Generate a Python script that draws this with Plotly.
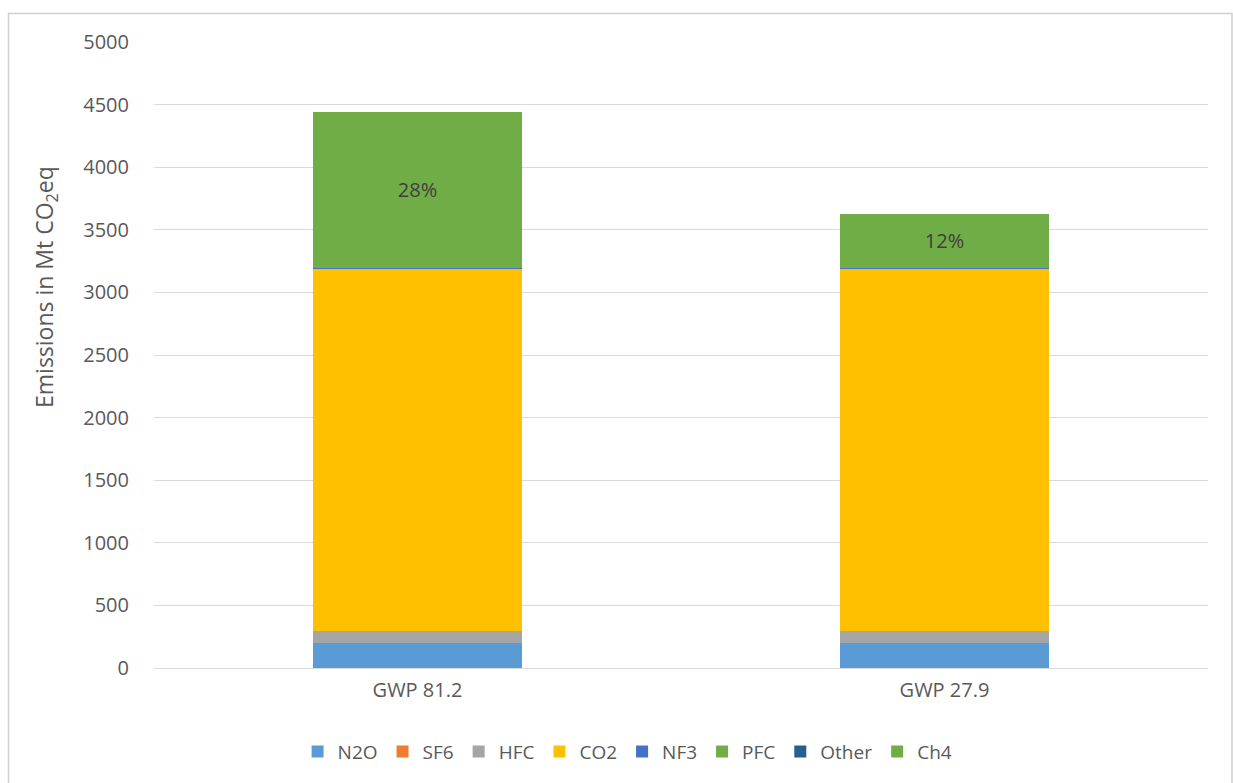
import plotly.graph_objects as go

# Emission scenarios (x-axis categories)
scenarios = ["GWP 81.2", "GWP 27.9"]

# Emissions per gas, Mt CO2eq, stacked bottom to top
n2o = [200, 200]
sf6 = [2, 2]
hfc = [90, 90]
co2 = [2902, 2902]
nf3 = [2, 2]
pfc = [8, 8]
other = [0, 0]
ch4 = [1240, 420]

gases = ["N2O", "SF6", "HFC", "CO2", "NF3", "PFC", "Other", "Ch4"]
series = [n2o, sf6, hfc, co2, nf3, pfc, other, ch4]
colors = ["#5B9BD5", "#ED7D31", "#A5A5A5", "#FFC000",
          "#4472C4", "#70AD47", "#255E91", "#70AD47"]

totals = [sum(vals[i] for vals in series) for i in range(len(scenarios))]
ch4_share = [f"{round(100 * c / t)}%" for c, t in zip(ch4, totals)]

FONT = "Open Sans"
GREY_TEXT = "#595959"

fig = go.Figure()
for name, vals, col in zip(gases, series, colors):
    bar = dict(
        name=name,
        x=scenarios,
        y=vals,
        marker=dict(color=col, line=dict(width=0)),
    )
    if name == "Ch4":
        bar.update(
            text=ch4_share,
            textposition="inside",
            insidetextanchor="middle",
            textangle=0,
            textfont=dict(family=FONT, size=20, color="#404040"),
        )
    fig.add_trace(go.Bar(**bar))

L, R, T, B = 154, 25, 42, 115
W, H = 1233, 783
pw, ph = W - L - R, H - T - B


def px_x(x):
    return (x - L) / pw


def px_y(y):
    return (H - B - y) / ph


fig.update_layout(
    barmode="stack",
    bargap=0.603,
    width=W,
    height=H,
    margin=dict(l=L, r=R, t=T, b=B),
    paper_bgcolor="white",
    plot_bgcolor="white",
    font=dict(family=FONT, size=18, color=GREY_TEXT),
    showlegend=True,
    legend=dict(
        orientation="h",
        xref="container", yref="container",
        x=0.509, y=0.04,
        xanchor="center", yanchor="middle",
        font=dict(family=FONT, size=19, color=GREY_TEXT),
        traceorder="normal",
        itemwidth=30,
    ),
    xaxis=dict(
        showgrid=False,
        showline=False,
        ticks="",
        ticklabelstandoff=8,
        tickfont=dict(family=FONT, size=20, color=GREY_TEXT),
    ),
    yaxis=dict(
        range=[0, 5000],
        dtick=500,
        showgrid=True,
        gridcolor="#D9D9D9",
        gridwidth=1.3,
        zeroline=True,
        zerolinecolor="#D9D9D9",
        zerolinewidth=1.3,
        showline=False,
        ticks="",
        ticklabelstandoff=24,
        tickfont=dict(family=FONT, size=20, color=GREY_TEXT),
    ),
    annotations=[dict(
        text="Emissions in Mt CO<sub>2</sub>eq",
        xref="paper", yref="paper",
        x=px_x(45), y=px_y(287),
        xanchor="center", yanchor="middle",
        textangle=-90,
        showarrow=False,
        font=dict(family=FONT, size=23, color=GREY_TEXT),
    )],
    shapes=[dict(
        type="rect",
        xref="paper", yref="paper",
        x0=px_x(8.5), x1=px_x(1232),
        y0=px_y(800), y1=px_y(13.5),
        line=dict(color="#D0D0D0", width=1.5),
        fillcolor="rgba(0,0,0,0)",
        layer="below",
    )],
)

fig.write_html("out.html")
